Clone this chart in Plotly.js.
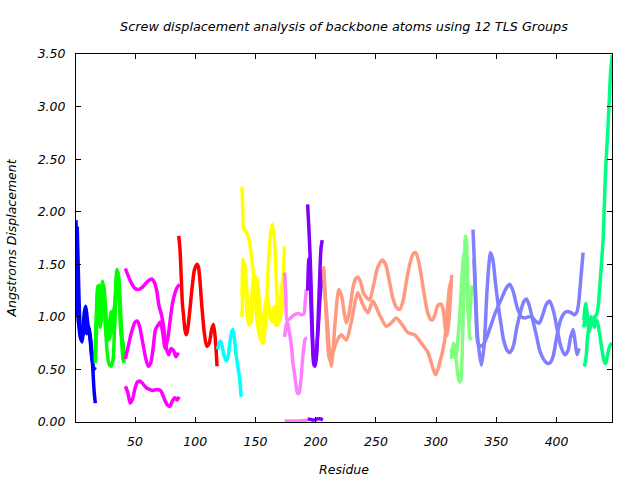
<!DOCTYPE html>
<html>
<head>
<meta charset="utf-8">
<script src="https://cdn.plot.ly/plotly-3.0.1.min.js"></script>
<style>html,body{margin:0;padding:0;background:#fff}#chart{width:640px;height:480px}</style>
</head>
<body>
<div id="chart"></div>
<script>
// ---- Group 1 (blue) ----
const blueX1 = [1,2,3,4,5,6,7,8,9,10,11,12,13,14,15,16,17];
const blueY1 = [1.92,1.30,1.05,0.85,0.78,0.80,0.92,1.05,1.10,1.02,0.92,0.88,0.80,0.68,0.50,0.30,0.18];
const blueX2 = [2,3,4,5,6,7,8,9,10,11,12,13,14,15,16,17];
const blueY2 = [1.86,1.40,1.00,0.82,0.76,0.85,0.98,1.02,0.95,0.88,0.85,0.78,0.65,0.55,0.50,0.52];
const blueX3 = [1,2,3,4,5,6,7,8,9,10,11,12,13,14,15];
const blueY3 = [1.27,1.10,0.95,0.88,0.82,0.80,0.86,0.92,0.88,0.84,0.90,0.86,0.75,0.62,0.56];
// ---- Group 2 (green) ----
const greenX = [17,18,19,20,21,22,23,24,25,26,27,28,29,30,31,32,33,34,35,36,37,38,39,40,41];
const greenY1 = [0.56,0.95,1.29,1.15,1.05,1.25,1.34,1.25,1.00,0.80,0.65,0.57,0.54,0.53,0.55,0.62,0.90,1.30,1.45,1.40,1.20,0.95,0.75,0.60,0.56];
const greenY2 = [0.70,1.05,1.25,1.00,0.90,1.10,1.28,1.20,1.05,0.90,0.80,0.82,0.95,1.05,0.98,0.85,0.95,1.20,1.42,1.35,1.15,0.90,0.80,0.75,0.62];
const greenY3 = [0.60,0.85,1.20,1.30,1.10,0.95,1.15,1.30,1.18,1.00,0.88,0.78,0.80,0.90,1.00,1.05,1.10,1.25,1.38,1.42,1.30,1.05,0.85,0.70,0.58];
// ---- Group 3 (magenta) ----
const magX1 = [42,44,47,50,53,56,59,62,64,66,68,70,72,74,76,78,80,82,84,86];
const magY1 = [1.46,1.40,1.32,1.27,1.26,1.28,1.32,1.35,1.36,1.33,1.25,1.10,1.02,0.88,0.70,0.64,0.70,0.68,0.62,0.66];
const magX2 = [42,44,47,50,52,54,56,59,61,63,65,67,69,71,73,75,77,79,81,83,85,87];
const magY2 = [0.60,0.70,0.85,0.95,0.96,0.90,0.78,0.60,0.53,0.56,0.70,0.88,0.92,0.95,0.85,0.70,0.78,0.95,1.12,1.22,1.28,1.31];
const magX3 = [42,44,46,48,50,52,54,56,59,62,65,68,71,73,75,77,79,81,83,85,86.5];
const magY3 = [0.34,0.28,0.18,0.22,0.32,0.38,0.39,0.37,0.33,0.31,0.30,0.31,0.30,0.26,0.20,0.16,0.15,0.20,0.23,0.21,0.24];
// ---- Group 4 (red) ----
const redX = [86.3,87.3,88.3,89.3,90.4,91.4,92.4,93.4,95.4,97.4,99.4,101.5,102.5,103.5,105.5,107.5,109.5,111.6,113.6,115.1,116.6,118.1];
const redY = [1.77,1.65,1.40,1.13,1.00,0.88,0.83,0.86,1.05,1.28,1.45,1.50,1.48,1.40,1.10,0.85,0.72,0.75,0.88,0.93,0.80,0.53];
// ---- Group 5 (cyan) ----
const cyanX = [118.6,119.6,121,122.7,124.2,125.7,127.2,128.7,130.3,131.3,132.3,133.8,135.3,136.8,138.1];
const cyanY = [0.69,0.74,0.77,0.70,0.62,0.58,0.62,0.75,0.86,0.88,0.82,0.65,0.53,0.42,0.24];
// ---- Group 6 (yellow) ----
const yelX1 = [138.8,139.3,140.3,141.8,143.4,144.9,146.4,147.9,149.4,150.9,152.9,154.9,156.5,158,159.5,161,162.6,164.1,165.6,167.1,168.6,170.1,171.6,173.1,174.2];
const yelY1 = [2.24,2.10,1.83,1.82,1.78,1.72,1.60,1.45,1.25,1.00,0.85,0.77,0.75,0.90,1.20,1.55,1.80,1.88,1.75,1.40,1.05,0.96,1.05,1.40,1.67];
const yelX2 = [138.8,139.8,141.3,142.9,144.4,145.9,147.4,148.9,150.4,151.9,153.5,155,156.5,158,159.5,161,162.6,164.1,165.6,167.1,168.6,170.1,171.6,173.1,174.2];
const yelY2 = [1.00,1.30,1.50,1.25,0.98,0.94,1.10,1.30,1.38,1.32,1.10,0.95,0.98,1.10,1.20,1.12,1.00,0.95,0.97,0.92,0.95,1.05,1.25,1.38,1.30];
const yelY3 = [1.20,1.55,1.40,1.05,0.92,1.00,1.25,1.40,1.28,1.05,0.88,0.80,0.88,1.05,1.15,1.05,0.98,1.00,1.10,1.00,0.92,1.00,1.20,1.30,1.10];
// ---- Group 7 (pink) ----
const pinkX1 = [174.2,175.2,176.2,178.2,180.2,182.3,184.3,186.3,188.3,190.3,191.3,192.3];
const pinkY1 = [1.42,1.20,0.97,0.98,1.00,1.02,1.03,1.03,1.02,1.03,1.15,1.26];
const pinkX2 = [174.2,175.2,176.2,177.2,178.2,179.2,180.2,181.2,182.3,183.3,184.3,185.3,186.3,187.3,188.3,189.3,190.3,191.3,192.8];
const pinkY2 = [0.81,0.90,0.95,0.92,0.85,0.78,0.68,0.55,0.47,0.38,0.30,0.27,0.28,0.35,0.48,0.62,0.72,0.79,0.80];
const pinkX3 = [174.2,178.2,182.3,186.3,190.3,193.3];
const pinkY3 = [0.01,0.01,0.01,0.01,0.015,0.015];
// ---- Group 8 (violet) ----
const violX = [193.3,194.3,195.3,196.3,197.3,198.4,199.4,200.4,201.4,202.4,203.4,204.4,205.4];
const violY1 = [2.07,1.85,1.60,1.25,0.85,0.60,0.56,0.62,0.80,1.10,1.40,1.65,1.73];
const violY2 = [1.25,1.55,1.40,1.05,0.75,0.55,0.53,0.60,0.78,0.95,1.15,1.30,1.45];
const violX3 = [193.3,195.3,197.3,199.4,201.4,203.4,206];
const violY3 = [0.03,0.025,0.02,0.02,0.03,0.03,0.02];
// ---- Group 9 (salmon) ----
const salX1 = [206.5,208,210,211.5,212.9,214.5,216.5,219.2,221.5,223.5,225.4,228,231,233,235,237,240,244.7,248,251.5,255.3,258,261,264,267,269.7,272.5,275.5,278.5,281,283,285,287.5,290,292.5,295,296.9,299,301,303,304.3,306,307.5,309,310.5,312,312.9];
const salY1 = [1.48,1.20,0.90,0.65,0.53,0.70,1.00,1.26,1.20,1.05,0.94,1.05,1.28,1.36,1.38,1.34,1.22,1.16,1.30,1.47,1.54,1.50,1.35,1.18,1.09,1.07,1.15,1.35,1.52,1.60,1.61,1.55,1.40,1.22,1.06,0.98,0.97,1.02,1.10,1.12,1.12,1.05,0.90,0.82,0.95,1.20,1.40];
const salX2 = [206.5,208.8,211.5,214,216.5,219,221.2,225.4,229.5,235,239,243.3,247.5,253,258.6,262.5,266.9,271.5,276.6,282.1,287.7,293.2,299.6,302.9,307.1,311.2,312.9];
const salY2 = [1.45,1.00,0.59,0.65,0.74,0.80,0.83,0.78,0.95,1.23,1.12,1.04,1.15,1.02,0.91,0.94,0.99,0.93,0.85,0.83,0.75,0.66,0.45,0.56,0.78,1.29,1.35];
// ---- Group 10 (light green) ----
const lgX1 = [312.6,313.5,314.5,315.5,316.5,317.5,318.5,319.5,320.5,321.5,322.5,323.5,324.3,325.2,326,327,328,329.3];
const lgY1 = [0.70,0.62,0.72,0.66,0.60,0.50,0.42,0.38,0.40,0.60,1.05,1.50,1.77,1.72,1.40,1.00,0.80,0.78];
const lgX2 = [312.6,313.5,314.5,315.5,316.5,317.5,318.5,319.5,320.5,321.5,322.5,323.5,324.5,325.5,326.5,327.5,328.5,329.5];
const lgY2 = [0.60,0.68,0.75,0.70,0.62,0.72,0.85,1.00,1.20,1.40,1.55,1.62,1.50,1.30,1.05,0.95,1.10,1.30];
// ---- Group 11 (periwinkle) ----
const pwX1 = [330.6,332.5,334.5,337.6,340,342,344,345,347,349,351.4,354,356,359,361.1,364,367,370.8,373,375,377,380,383.3,386,389,392,394.3,397,400,403,406.8,409,412,415,417,418.5,420,422];
const pwY1 = [1.83,1.30,0.80,0.54,0.75,1.20,1.52,1.61,1.55,1.35,1.12,0.92,0.78,0.68,0.66,0.72,0.90,1.08,1.15,1.17,1.12,0.98,0.82,0.68,0.60,0.56,0.56,0.62,0.80,0.96,1.04,1.05,1.04,1.02,1.05,1.15,1.35,1.61];
const pwX2 = [331.5,333,334.7,337,339.5,342.5,345.5,348.5,351.4,354.5,358,361.1,364,367,370.8,373.5,376.5,379.5,382.5,385.5,388.5,391.5,394.3,397.5,400.5,403.5,406.8,409.5,411.5,413.7,415.5,417,418.7];
const pwY2 = [1.55,1.05,0.75,0.72,0.74,0.82,0.92,1.02,1.10,1.18,1.27,1.31,1.24,1.10,1.00,0.99,1.00,1.00,0.96,0.94,1.02,1.12,1.15,1.05,0.88,0.72,0.64,0.68,0.80,0.88,0.75,0.64,0.70];
// ---- Group 12 (spring green) ----
const sgX1 = [422.6,423.5,424.5,425.5,426.5,427.5,428.5,429.5,430.5,431.5,433.1,434.5,436,437.5,439,440,440.9,442,443.5,445,446];
const sgY1 = [0.53,0.55,0.62,0.78,0.88,0.92,0.93,0.95,0.96,0.97,0.97,0.92,0.82,0.70,0.60,0.56,0.56,0.62,0.70,0.74,0.75];
const sgX2 = [422.6,423.5,424.3,425.2,426.2,427.2,428.5,430,431.5,433.1,434.5,435.9,437.2,438.6,439.6,440.6,441.7,442.8,443.8,444.8,446.1];
const sgY2 = [0.97,1.08,1.13,1.05,0.95,0.88,0.92,0.98,1.00,1.02,1.10,1.29,1.50,1.73,2.05,2.37,2.60,2.84,3.08,3.32,3.49];
const sgX3 = [422.6,424,425.5,427,428.5,430,431.5,433];
const sgY3 = [0.90,1.00,0.95,0.86,1.00,0.95,0.90,0.98];

const xTicks = [50,100,150,200,250,300,350,400];
const yTicks = [0,0.5,1,1.5,2,2.5,3,3.5];

const series = [
  [blueX1, blueY1, '#0000ff'], [blueX2, blueY2, '#0000ff'], [blueX3, blueY3, '#0000ff'],
  [greenX, greenY1, '#00ff00'], [greenX, greenY2, '#00ff00'], [greenX, greenY3, '#00ff00'],
  [magX1, magY1, '#ff00ff'], [magX2, magY2, '#ff00ff'], [magX3, magY3, '#ff00ff'],
  [redX, redY, '#ff0000'],
  [cyanX, cyanY, '#00ffff'],
  [yelX1, yelY1, '#ffff00'], [yelX2, yelY2, '#ffff00'], [yelX2, yelY3, '#ffff00'],
  [pinkX1, pinkY1, '#ff80ff'], [pinkX2, pinkY2, '#ff80ff'], [pinkX3, pinkY3, '#ff80ff'],
  [violX, violY1, '#8000ff'], [violX, violY2, '#8000ff'], [violX3, violY3, '#8000ff'],
  [salX1, salY1, '#ff9980'], [salX2, salY2, '#ff9980'],
  [lgX1, lgY1, '#80ff80'], [lgX2, lgY2, '#80ff80'],
  [pwX1, pwY1, '#8080ff'], [pwX2, pwY2, '#8080ff'],
  [sgX1, sgY1, '#00ff80'], [sgX2, sgY2, '#00ff80'], [sgX3, sgY3, '#00ff80']
];

const traces = series.map(s => ({
  x: s[0], y: s[1], type: 'scatter', mode: 'lines',
  line: {color: s[2], width: 3.5, shape: 'spline', smoothing: 0.7},
  hoverinfo: 'skip', showlegend: false
}));

const fnt = {family: 'DejaVu Sans, sans-serif', size: 12.5, color: '#000', style: 'italic'};
const titleFnt = {family: 'DejaVu Sans, sans-serif', size: 12.8, color: '#000', style: 'italic'};

const layout = {
  width: 640, height: 480,
  margin: {l: 75.5, r: 27.7, t: 54.3, b: 57.7, pad: 0},
  paper_bgcolor: '#fff', plot_bgcolor: '#fff',
  showlegend: false,
  title: {text: 'Screw displacement analysis of backbone atoms using 12 TLS Groups', font: titleFnt,
          x: 0.5, xref: 'paper', y: 1 - 27/480, yref: 'container', yanchor: 'middle', xanchor: 'center'},
  xaxis: {range: [1, 446], tickvals: xTicks, ticks: 'inside', ticklen: 5, tickcolor: '#000',
          mirror: 'allticks', showline: true, linecolor: '#000', linewidth: 1, showgrid: false, zeroline: false,
          tickfont: fnt, ticklabelstandoff: 8,
          title: {text: 'Residue', font: fnt, standoff: 17}},
  yaxis: {range: [0, 3.5], tickvals: yTicks, tickformat: '.2f', ticks: 'inside', ticklen: 5, tickcolor: '#000',
          mirror: 'allticks', showline: true, linecolor: '#000', linewidth: 1, showgrid: false, zeroline: false,
          tickfont: fnt, ticklabelstandoff: 7,
          title: {text: 'Angstroms Displacement', font: fnt, standoff: 18}}
};

Plotly.newPlot('chart', traces, layout, {staticPlot: true, displayModeBar: false});
</script>
</body>
</html>
